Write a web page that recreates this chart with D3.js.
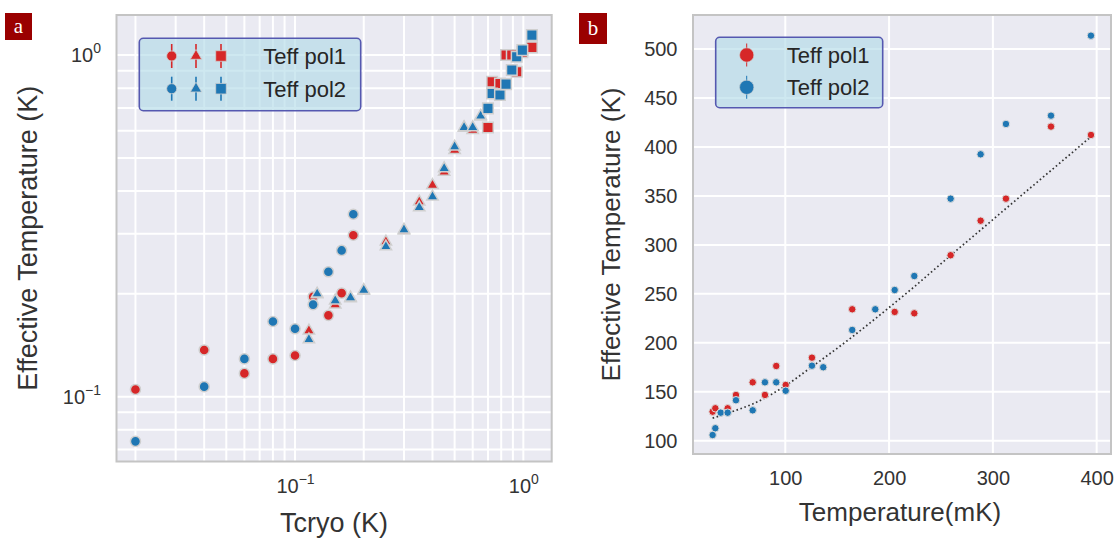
<!DOCTYPE html>
<html><head><meta charset="utf-8">
<script src="https://cdn.jsdelivr.net/npm/d3@7"></script>
<style>
body{margin:0;background:#fff;}
svg{display:block;font-family:"Liberation Sans", Arial, sans-serif;}
</style></head><body>
<svg id="chart" width="1114" height="539"></svg>
<script>
// ---------- Panel a data (log-log) ----------
const circleTcryo = [0.02,0.04,0.06,0.08,0.10,0.12,0.14,0.16,0.18];
const circlePol1  = [0.105,0.137,0.117,0.129,0.132,0.196,0.173,0.201,0.297];
const circlePol2  = [0.074,0.107,0.129,0.166,0.158,0.186,0.232,0.268,0.342];
const triTcryo = [0.115,0.125,0.15,0.175,0.2,0.25,0.3,0.35,0.4,0.45,0.5,0.55,0.6,0.65];
const triPol1  = [0.156,0.199,0.186,0.194,0.204,0.284,0.306,0.372,0.416,0.455,0.527,0.612,0.603,0.66];
const triPol2  = [0.147,0.200,0.191,0.195,0.205,0.275,0.308,0.358,0.385,0.466,0.539,0.614,0.614,0.663];
const sqTcryo = [0.70,0.73,0.79,0.84,0.89,0.935,0.99,1.09];
const sqPol1  = [0.614,0.835,0.826,1.0,1.0,0.894,1.02,1.053];
const sqPol2  = [0.698,0.772,0.764,0.822,0.904,0.989,1.034,1.144];
const logTicks = [0.1, 1];

// ---------- Panel b data ----------
const tempMK   = [30,32.6,37.8,44.5,52.5,68.6,80.4,91.3,100.4,125.7,136.6,164.5,186.7,205.4,224.3,259.3,288.2,312.6,356,394.5];
const teffPol1 = [129.6,133.1,null,133.1,146.7,159.6,146.7,176.3,156.9,184.8,null,234.2,null,231.5,230.1,289.4,324.7,347.2,420.8,412.3];
const teffPol2 = [105.8,112.7,128.6,128.6,141.3,131,159.6,159.6,151,176.6,175,213.1,234.2,253.9,268.2,347.2,392.5,423.5,432,513.7];
const fitTemp  = [30,52.5,68.6,100,125,164.5,200,224,259,288,313,356,394.5];
const fitTeff  = [123,131,137.5,156,175,206,236,257,289,315,337.5,376,410.5];
const bXTicks = [100,200,300,400];
const bYTicks = [100,150,200,250,300,350,400,450,500];

const seriesNames = ["Teff pol1","Teff pol2"];
const colors = ["#d62728","#1f77b4"];

const svg = d3.select("#chart");
const BG = "#eaeaf2", SPINE = "#c4c4c4", TXT = "#333333";

function supLabel(sel){
  sel.each(function(d){
    const t = d3.select(this);
    const e = Math.round(Math.log10(d));
    t.text(null);
    t.append("tspan").text("10");
    t.append("tspan").attr("font-size",14).attr("dy",-9).text(e<0 ? "\u2212"+(-e) : String(e));
  });
}

// ================= Panel a =================
const A = {x0:116.5, x1:551.7, y0:15, y1:461.5};
const xA = d3.scaleLog().domain([0.01652,1.331]).range([A.x0,A.x1]);
const yA = d3.scaleLog().domain([0.0646,1.31]).range([A.y1,A.y0]);
const gA = svg.append("g");
gA.append("rect").attr("x",A.x0).attr("y",A.y0).attr("width",A.x1-A.x0).attr("height",A.y1-A.y0).attr("fill",BG);
gA.selectAll("line.gx").data(xA.ticks()).join("line")
  .attr("x1",d=>xA(d)).attr("x2",d=>xA(d)).attr("y1",A.y0).attr("y2",A.y1)
  .attr("stroke","#fff").attr("stroke-width",2);
gA.selectAll("line.gy").data(yA.ticks()).join("line")
  .attr("y1",d=>yA(d)).attr("y2",d=>yA(d)).attr("x1",A.x0).attr("x2",A.x1)
  .attr("stroke","#fff").attr("stroke-width",2);

const axAx = gA.append("g").attr("transform",`translate(0,${A.y1})`)
  .call(d3.axisBottom(xA).tickValues(logTicks).tickSize(0).tickPadding(17));
axAx.select(".domain").remove();
axAx.selectAll("text").attr("font-size",20).attr("fill",TXT).call(supLabel);
const ayAx = gA.append("g").attr("transform",`translate(${A.x0},0)`)
  .call(d3.axisLeft(yA).tickValues(logTicks).tickSize(0).tickPadding(15.5));
ayAx.select(".domain").remove();
ayAx.selectAll("text").attr("font-size",20).attr("fill",TXT).call(supLabel);

const symCircle = d3.symbol().type(d3.symbolCircle).size(80);
const symTri = d3.symbol().type(d3.symbolTriangle).size(56);
const symSq = d3.symbol().type(d3.symbolSquare).size(112);

function drawMarkers(g, xs, ys, sc, yS, sym, color){
  const pts = xs.map((x,i)=>({x, y: ys[i]})).filter(p=>p.y!=null);
  g.selectAll(null).data(pts).join("path")
    .attr("d", sym)
    .attr("transform", p=>`translate(${sc(p.x)},${yS(p.y)})`)
    .attr("fill", color).attr("stroke","#cfcfcf").attr("stroke-width",1.5);
}
const mA = gA.append("g");
drawMarkers(mA, circleTcryo, circlePol1, xA, yA, symCircle, colors[0]);
drawMarkers(mA, circleTcryo, circlePol2, xA, yA, symCircle, colors[1]);
drawMarkers(mA, triTcryo, triPol1, xA, yA, symTri, colors[0]);
drawMarkers(mA, triTcryo, triPol2, xA, yA, symTri, colors[1]);
drawMarkers(mA, sqTcryo, sqPol1, xA, yA, symSq, colors[0]);
drawMarkers(mA, sqTcryo, sqPol2, xA, yA, symSq, colors[1]);

gA.append("rect").attr("x",A.x0).attr("y",A.y0).attr("width",A.x1-A.x0).attr("height",A.y1-A.y0)
  .attr("fill","none").attr("stroke",SPINE).attr("stroke-width",2);

// legend a
const LA = {x:139.3, y:38.3, w:221.4, h:72.4, rows:[56,88.7], mx:[171.7,196,221], tx:263.3};
gA.append("rect").attr("x",LA.x).attr("y",LA.y).attr("width",LA.w).attr("height",LA.h).attr("rx",4)
  .attr("fill","#add8e6").attr("fill-opacity",0.6).attr("stroke","#5558b0").attr("stroke-width",1.6);
const syms = [symCircle, symTri, symSq];
seriesNames.forEach((name,i)=>{
  const cy = LA.rows[i];
  LA.mx.forEach((mx,j)=>{
    gA.append("line").attr("x1",mx).attr("x2",mx).attr("y1",cy-12).attr("y2",cy+12)
      .attr("stroke",colors[i]).attr("stroke-width",1.6);
    gA.append("path").attr("d",syms[j]).attr("transform",`translate(${mx},${cy})`)
      .attr("fill",colors[i]).attr("stroke","#cfcfcf").attr("stroke-width",0.8);
  });
  gA.append("text").attr("x",LA.tx).attr("y",cy).attr("dy","0.36em").attr("font-size",22)
    .attr("fill","#262626").text(name);
});

gA.append("text").attr("x",(A.x0+A.x1)/2).attr("y",532).attr("text-anchor","middle")
  .attr("font-size",27).attr("fill",TXT).text("Tcryo (K)");
gA.append("text").attr("transform",`translate(37,${(A.y0+A.y1)/2}) rotate(-90)`).attr("text-anchor","middle")
  .attr("font-size",27).attr("fill",TXT).text("Effective Temperature (K)");

// ================= Panel b =================
const B = {x0:693, x1:1111, y0:15, y1:454};
const xB = d3.scaleLinear().domain([11.1,413.8]).range([B.x0,B.x1]);
const yB = d3.scaleLinear().domain([86.4,534.8]).range([B.y1,B.y0]);
const gB = svg.append("g");
gB.append("rect").attr("x",B.x0).attr("y",B.y0).attr("width",B.x1-B.x0).attr("height",B.y1-B.y0).attr("fill",BG);
gB.selectAll("line.gx").data(bXTicks).join("line")
  .attr("x1",d=>xB(d)).attr("x2",d=>xB(d)).attr("y1",B.y0).attr("y2",B.y1)
  .attr("stroke","#fff").attr("stroke-width",2);
gB.selectAll("line.gy").data(bYTicks).join("line")
  .attr("y1",d=>yB(d)).attr("y2",d=>yB(d)).attr("x1",B.x0).attr("x2",B.x1)
  .attr("stroke","#fff").attr("stroke-width",2);
const bxAx = gB.append("g").attr("transform",`translate(0,${B.y1})`)
  .call(d3.axisBottom(xB).tickValues(bXTicks).tickSize(0).tickPadding(17).tickFormat(d3.format("d")));
bxAx.select(".domain").remove();
bxAx.selectAll("text").attr("font-size",20).attr("fill",TXT);
const byAx = gB.append("g").attr("transform",`translate(${B.x0},0)`)
  .call(d3.axisLeft(yB).tickValues(bYTicks).tickSize(0).tickPadding(15.5).tickFormat(d3.format("d")));
byAx.select(".domain").remove();
byAx.selectAll("text").attr("font-size",20).attr("fill",TXT);

const fitLine = d3.line().x((d,i)=>xB(fitTemp[i])).y(d=>yB(d)).curve(d3.curveMonotoneX);
gB.append("path").attr("d",fitLine(fitTeff)).attr("fill","none").attr("stroke","#333")
  .attr("stroke-width",1.7).attr("stroke-dasharray","1.6,2.6");

const symSmall = d3.symbol().type(d3.symbolCircle).size(44);
const mB = gB.append("g");
[teffPol1, teffPol2].forEach((ys,si)=>{
  const pts = tempMK.map((x,i)=>({x,y:ys[i]})).filter(p=>p.y!=null);
  mB.selectAll(null).data(pts).join("path").attr("d",symSmall)
    .attr("transform",p=>`translate(${xB(p.x)},${yB(p.y)})`)
    .attr("fill",colors[si]).attr("stroke","#dcdcdc").attr("stroke-width",1);
});

gB.append("rect").attr("x",B.x0).attr("y",B.y0).attr("width",B.x1-B.x0).attr("height",B.y1-B.y0)
  .attr("fill","none").attr("stroke",SPINE).attr("stroke-width",2);

const LB = {x:715.7, y:37.3, w:167, h:70.4, rows:[55,87.3], mx:746.7, tx:786.7};
gB.append("rect").attr("x",LB.x).attr("y",LB.y).attr("width",LB.w).attr("height",LB.h).attr("rx",4)
  .attr("fill","#add8e6").attr("fill-opacity",0.6).attr("stroke","#5558b0").attr("stroke-width",1.6);
const symLeg = d3.symbol().type(d3.symbolCircle).size(160);
seriesNames.forEach((name,i)=>{
  const cy = LB.rows[i];
  gB.append("line").attr("x1",LB.mx).attr("x2",LB.mx).attr("y1",cy-11.5).attr("y2",cy+11.5)
    .attr("stroke",colors[i]).attr("stroke-width",1);
  gB.append("path").attr("d",symLeg).attr("transform",`translate(${LB.mx},${cy})`)
    .attr("fill",colors[i]).attr("stroke","#cfcfcf").attr("stroke-width",0.6);
  gB.append("text").attr("x",LB.tx).attr("y",cy).attr("dy","0.36em").attr("font-size",22)
    .attr("fill","#262626").text(name);
});

gB.append("text").attr("x",900).attr("y",520.7).attr("text-anchor","middle")
  .attr("font-size",26).attr("fill",TXT).text("Temperature(mK)");
gB.append("text").attr("transform",`translate(620,${(B.y0+B.y1)/2}) rotate(-90)`).attr("text-anchor","middle")
  .attr("font-size",26).attr("fill",TXT).text("Effective Temperature (K)");

// panel tags
[["a",5,13,27,27],["b",579,13,28,31]].forEach(([t,x,y,w,h])=>{
  svg.append("rect").attr("x",x).attr("y",y).attr("width",w).attr("height",h).attr("fill","#9a0000");
  svg.append("text").attr("x",x+w/2).attr("y",y+h/2).attr("dy","0.3em").attr("text-anchor","middle")
    .attr("font-family","'Liberation Serif', 'DejaVu Serif', serif").attr("font-size",21).attr("fill","#fff").text(t);
});
</script>
</body></html>
